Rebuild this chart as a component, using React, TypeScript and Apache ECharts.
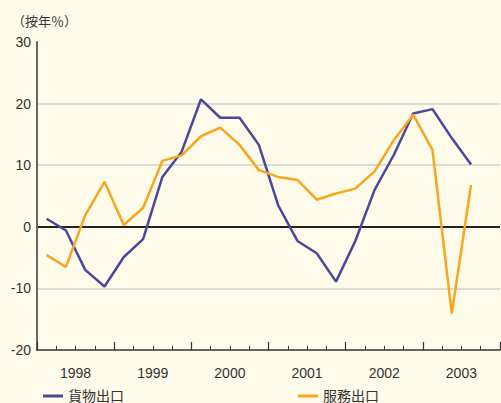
import { useEffect, useRef } from 'react';
import * as echarts from 'echarts';

const years = ['1998', '1999', '2000', '2001', '2002', '2003'];

// quarterly year-on-year growth, 1998Q1 .. 2003Q3
const goodsExports = [
  1.3, -0.6, -7.0, -9.7, -4.9, -2.0, 8.1, 12.2, 20.7, 17.7, 17.7, 13.3,
  3.5, -2.3, -4.3, -8.9, -2.3, 6.0, 11.7, 18.4, 19.1, 14.4, 10.1,
];
const serviceExports = [
  -4.6, -6.5, 1.9, 7.3, 0.3, 3.1, 10.7, 11.6, 14.7, 16.1, 13.3, 9.2,
  8.1, 7.6, 4.4, 5.4, 6.2, 9.0, 14.1, 18.2, 12.5, -14.1, 6.8,
];
const yTicks = [-20, 30, 10];

const FONT = '"Liberation Sans", "Noto Sans CJK TC", sans-serif';
const BLUE = '#4a479e';
const ORANGE = '#f9a61c';

const toPoints = (values: number[]) => values.map((v, i) => [i + 0.5, v]);

export default function App() {
  const chartRef = useRef<HTMLDivElement>(null);

  useEffect(() => {
    if (!chartRef.current) return;
    const chart = echarts.init(chartRef.current, null, { renderer: 'svg' });

    const option: echarts.EChartsOption = {
      animation: false,
      backgroundColor: '#fefbea',
      textStyle: { fontFamily: FONT },
      grid: { left: 37, right: 1, top: 42, bottom: 53 },
      graphic: [
        {
          type: 'text',
          left: 12,
          top: 15,
          style: { text: '（按年％）', fontSize: 13, fill: '#333', fontFamily: FONT },
        },
      ],
      legend: [
        {
          left: 38,
          top: 384,
          icon: 'rect',
          itemWidth: 20,
          itemHeight: 3,
          data: ['貨物出口'],
          textStyle: { fontSize: 14, color: '#333', fontFamily: FONT },
        },
        {
          left: 293,
          top: 384,
          icon: 'rect',
          itemWidth: 20,
          itemHeight: 3,
          data: ['服務出口'],
          textStyle: { fontSize: 14, color: '#333', fontFamily: FONT },
        },
      ],
      xAxis: [
        {
          type: 'value',
          min: 0,
          max: years.length * 4,
          interval: 4,
          axisLine: { onZero: false, lineStyle: { color: '#333', width: 1.5 } },
          axisTick: { inside: true, length: 8, lineStyle: { color: '#333', width: 1.2 } },
          minorTick: { show: true, splitNumber: 4, length: 4, lineStyle: { color: '#333', width: 1 } },
          axisLabel: { show: false },
          splitLine: { show: false },
        },
        {
          type: 'category',
          data: years,
          boundaryGap: true,
          position: 'bottom',
          axisLine: { show: false, onZero: false },
          axisTick: { show: false },
          axisLabel: { margin: 16, fontSize: 14, color: '#333', fontFamily: FONT },
        },
      ],
      yAxis: {
        type: 'value',
        min: yTicks[0],
        max: yTicks[1],
        interval: yTicks[2],
        axisLine: { show: true, lineStyle: { color: '#666', width: 2 } },
        axisTick: { show: false },
        axisLabel: { margin: 6, fontSize: 14, color: '#333', fontFamily: FONT },
        splitLine: {
          lineStyle: {
            color: ['rgba(0,0,0,0)', '#dcdcd4', '#222', '#dcdcd4', '#dcdcd4', 'rgba(0,0,0,0)'],
            width: 2,
          },
        },
      },
      series: [
        {
          name: '貨物出口',
          type: 'line',
          xAxisIndex: 0,
          data: toPoints(goodsExports),
          showSymbol: false,
          lineStyle: { color: BLUE, width: 2.5 },
          itemStyle: { color: BLUE },
        },
        {
          name: '服務出口',
          type: 'line',
          xAxisIndex: 0,
          data: toPoints(serviceExports),
          showSymbol: false,
          lineStyle: { color: ORANGE, width: 2.5 },
          itemStyle: { color: ORANGE },
        },
      ],
    };

    chart.setOption(option);
    return () => chart.dispose();
  }, []);

  return (
    <div
      ref={chartRef}
      style={{ position: 'absolute', left: 0, top: 0, width: 501, height: 403 }}
    />
  );
}
